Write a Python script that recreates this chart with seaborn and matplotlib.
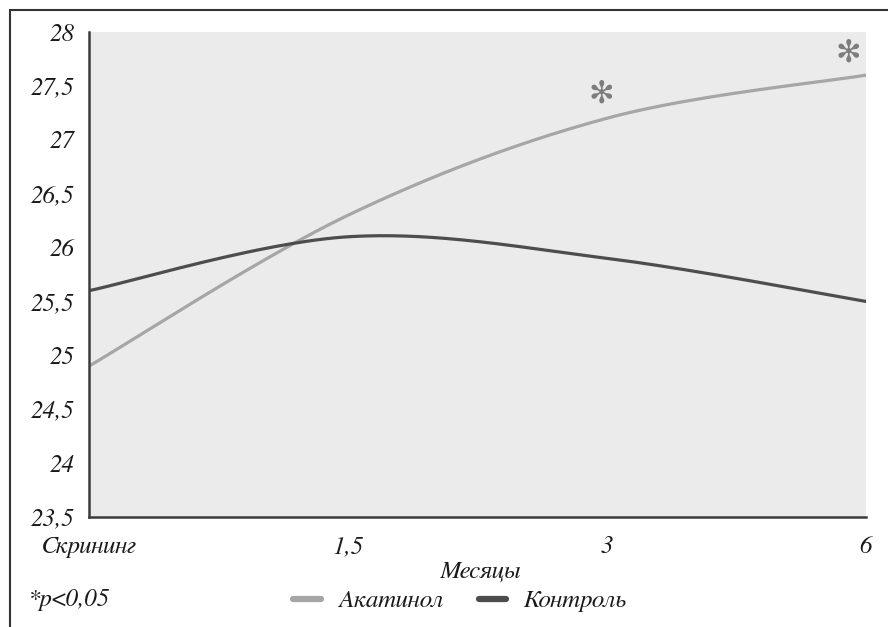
import numpy as np
import pandas as pd
import seaborn as sns
import matplotlib
matplotlib.use("Agg")
import matplotlib.pyplot as plt
from matplotlib.lines import Line2D
from matplotlib.patches import Rectangle

# Data
periods = ["Скрининг", "1,5", "3", "6"]
akatinol = [24.9, 26.3, 27.2, 27.6]
control = [25.6, 26.1, 25.9, 25.5]
significant = [False, False, True, True]  # p<0,05 vs control

yticks = [23.5, 24, 24.5, 25, 25.5, 26, 26.5, 27, 27.5, 28]


def smooth(xs, ys, n=60):
    """Cubic Bezier smoothing through the points (spreadsheet-style smoothed line)."""
    pts = np.column_stack([xs, ys]).astype(float)
    ext = np.vstack([pts[0], pts, pts[-1]])
    out = []
    t = np.linspace(0, 1, n)[:, None]
    for i in range(len(pts) - 1):
        p0, p1, pm, pp = ext[i + 1], ext[i + 2], ext[i], ext[i + 3]
        c1 = p0 + (p1 - pm) / 6
        c2 = p1 - (pp - p0) / 6
        seg = ((1 - t) ** 3) * p0 + 3 * ((1 - t) ** 2) * t * c1 + 3 * (1 - t) * t ** 2 * c2 + t ** 3 * p1
        out.append(seg if i == 0 else seg[1:])
    return np.vstack(out)


xpos = np.arange(len(periods))
frames = []
for name, vals in [("Акатинол", akatinol), ("Контроль", control)]:
    c = smooth(xpos, vals)
    frames.append(pd.DataFrame({"x": c[:, 0], "y": c[:, 1], "group": name}))
df = pd.concat(frames, ignore_index=True)

sns.set_theme(style="white")
plt.rcParams["font.family"] = ["FreeSerif", "Liberation Serif", "DejaVu Serif"]
plt.rcParams["font.style"] = "italic"

fig = plt.figure(figsize=(8.88, 6.27), dpi=100)
ax = fig.add_axes([89 / 888, 1 - 517 / 627, (866 - 89) / 888, (517 - 32) / 627])
ax.set_facecolor("#ebebeb")

palette = {"Акатинол": "#a6a6a6", "Контроль": "#4d4d4d"}
sns.lineplot(data=df, x="x", y="y", hue="group", palette=palette, sort=False,
             linewidth=2.3, ax=ax, legend=False)

# significance markers above the Акатинол line
star_off = {2: (-0.023, 0.225), 3: (-0.07, 0.205)}
for i, sig in enumerate(significant):
    if sig:
        dx, dy = star_off[i]
        ax.text(xpos[i] + dx, akatinol[i] + dy, "✻", family="DejaVu Sans", style="normal",
                fontsize=22, color="#7d7d7d", ha="center", va="center", clip_on=False)

ax.set_xlim(0, 3)
ax.set_ylim(23.5, 28)
ax.set_xticks(xpos)
ax.set_xticklabels(periods)
ax.set_yticks(yticks)
ax.set_yticklabels([f"{v:g}".replace(".", ",") for v in yticks])
ax.set_xlabel("")
ax.set_ylabel("")

for s in ["top", "right"]:
    ax.spines[s].set_visible(False)
for s in ["left", "bottom"]:
    ax.spines[s].set_color("#3c3c3c")
    ax.spines[s].set_linewidth(1.8)
ax.tick_params(axis="both", direction="inout", length=9, width=1.6, color="#3c3c3c",
               labelsize=18, labelcolor="#1a1a1a")
ax.tick_params(axis="y", pad=6)
ax.tick_params(axis="x", pad=9)

fig.text(480 / 888, 1 - 572 / 627, "Месяцы", ha="center", va="center", fontsize=18, color="#1a1a1a")
fig.text(28 / 888, 1 - 600 / 627, "*p<0,05", ha="left", va="center", fontsize=18, color="#1a1a1a")

handles = [Line2D([], [], color=palette[k], lw=4.5) for k in ["Акатинол", "Контроль"]]
fig.legend(handles, ["Акатинол", "Контроль"], loc="center", bbox_to_anchor=(460 / 888, 1 - 601 / 627),
           ncol=2, frameon=False, fontsize=18, handlelength=1.1, handletextpad=0.7,
           columnspacing=1.4, labelcolor="#1a1a1a")

# outer frame
fig.patches.append(Rectangle((10 / 888, -0.1), 1.0, 1 - 10 / 627 + 0.1, transform=fig.transFigure,
                             fill=False, edgecolor="#333333", linewidth=1.5))

fig.savefig("out.png", dpi=100)
